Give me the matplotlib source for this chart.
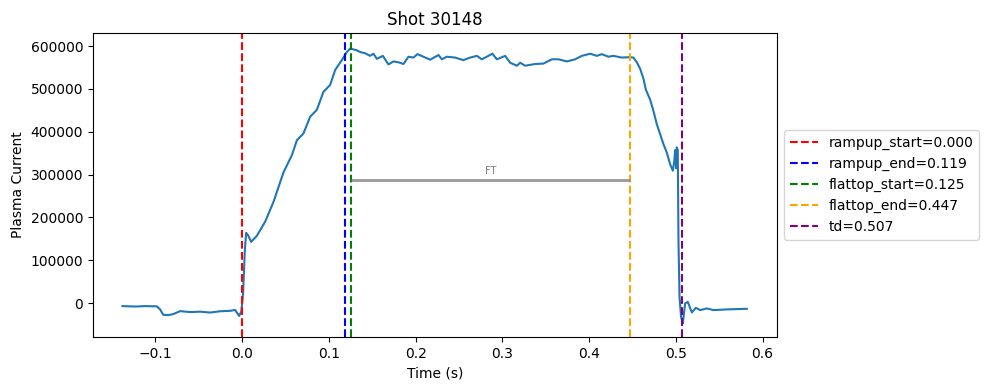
import numpy as np
import matplotlib
matplotlib.use("Agg")
import matplotlib.pyplot as plt

shot = 30148

# plasma current trace (time in s, current in A)
time = [
    -0.138, -0.123, -0.112, -0.0983, -0.0945, -0.091, -0.0853, -0.0795, -0.0715,
    -0.060, -0.0484, -0.0369, -0.0254, -0.0138, -0.0081, -0.0035, -0.001,
    0.001, 0.003, 0.0046, 0.0069, 0.0104, 0.0169, 0.0265, 0.0361, 0.0476,
    0.0573, 0.0631, 0.0707, 0.0784, 0.0861, 0.0937, 0.1014, 0.1072, 0.1149,
    0.1207, 0.1245, 0.1322, 0.136, 0.1418, 0.1476, 0.1514, 0.1553, 0.1622,
    0.1686, 0.1744, 0.1802, 0.1859, 0.1917, 0.1975, 0.2021, 0.209, 0.2167,
    0.2263, 0.2302, 0.236, 0.2455, 0.2551, 0.2628, 0.2706, 0.2763, 0.2839,
    0.2885, 0.2936, 0.3032, 0.3089, 0.3167, 0.3205, 0.3262, 0.3378, 0.3473,
    0.357, 0.3646, 0.3743, 0.3839, 0.3916, 0.4012, 0.4089, 0.4146, 0.4222,
    0.428, 0.4377, 0.4473, 0.451, 0.455, 0.4588, 0.4626, 0.4654, 0.4703,
    0.4742, 0.4781, 0.4819, 0.4857, 0.4896, 0.4934, 0.4965, 0.4983, 0.4991,
    0.5003, 0.5011, 0.5022, 0.503, 0.5042, 0.506, 0.5076, 0.508, 0.5107,
    0.5137, 0.5184, 0.523, 0.528, 0.5357, 0.5433, 0.5587, 0.5818,
]
current = [
    -7000, -8000, -7000, -7500, -15000, -27300, -28000, -25700, -18700,
    -21000, -20000, -22000, -19000, -18000, -16000, -30000, -20000,
    20000, 120000, 164000, 158000, 143000, 157000, 190000, 236000, 305000,
    345000, 380000, 396000, 435000, 451000, 493000, 509000, 544000, 567000,
    586000, 594000, 590000, 586000, 583000, 577000, 582000, 570000, 577000,
    557000, 564000, 562000, 558000, 575000, 573000, 581000, 575000, 568000,
    579000, 569000, 575000, 573000, 567000, 573000, 577000, 569000, 577000,
    582000, 569000, 577000, 561000, 554000, 561000, 554000, 558000, 559000,
    569000, 569000, 564000, 569000, 577000, 582000, 577000, 581000, 575000,
    577000, 573000, 574000, 573000, 562000, 547000, 524000, 498000, 475000,
    448000, 417000, 394000, 371000, 351000, 324000, 309000, 333000, 357000,
    314500, 363600, 357000, 147000, 14700, -32000, -43700, -47400, -700,
    3000, -21700, -11000, -16300, -12400, -16300, -14700, -13300,
]

event_names = ["rampup_start", "rampup_end", "flattop_start", "flattop_end", "td"]
event_times = [0.000, 0.119, 0.125, 0.447, 0.507]
event_colors = ["red", "blue", "green", "orange", "purple"]

ft_level = 287000  # half of the flattop current

fig = plt.figure(figsize=(9.89, 3.9), dpi=100)
ax = fig.add_axes([0.094, 0.136, 0.692, 0.779])

ax.plot(time, current, color="tab:blue")

for name, t, c in zip(event_names, event_times, event_colors):
    ax.axvline(t, color=c, linestyle="--", label=f"{name}={t:.3f}")

ax.hlines(ft_level, event_times[2], event_times[3], color="gray", lw=2, alpha=0.8)
ax.text(
    (event_times[2] + event_times[3]) / 2,
    ft_level + 10000,
    "FT",
    ha="center",
    va="bottom",
    fontsize=7,
    color="gray",
)

ax.set_xlim(-0.172, 0.617)
ax.set_ylim(-79000, 630000)
ax.set_title(f"Shot {shot}")
ax.set_xlabel("Time (s)")
ax.set_ylabel("Plasma Current")
ax.legend(loc="center left", bbox_to_anchor=(1, 0.5))

plt.savefig("out.png")
